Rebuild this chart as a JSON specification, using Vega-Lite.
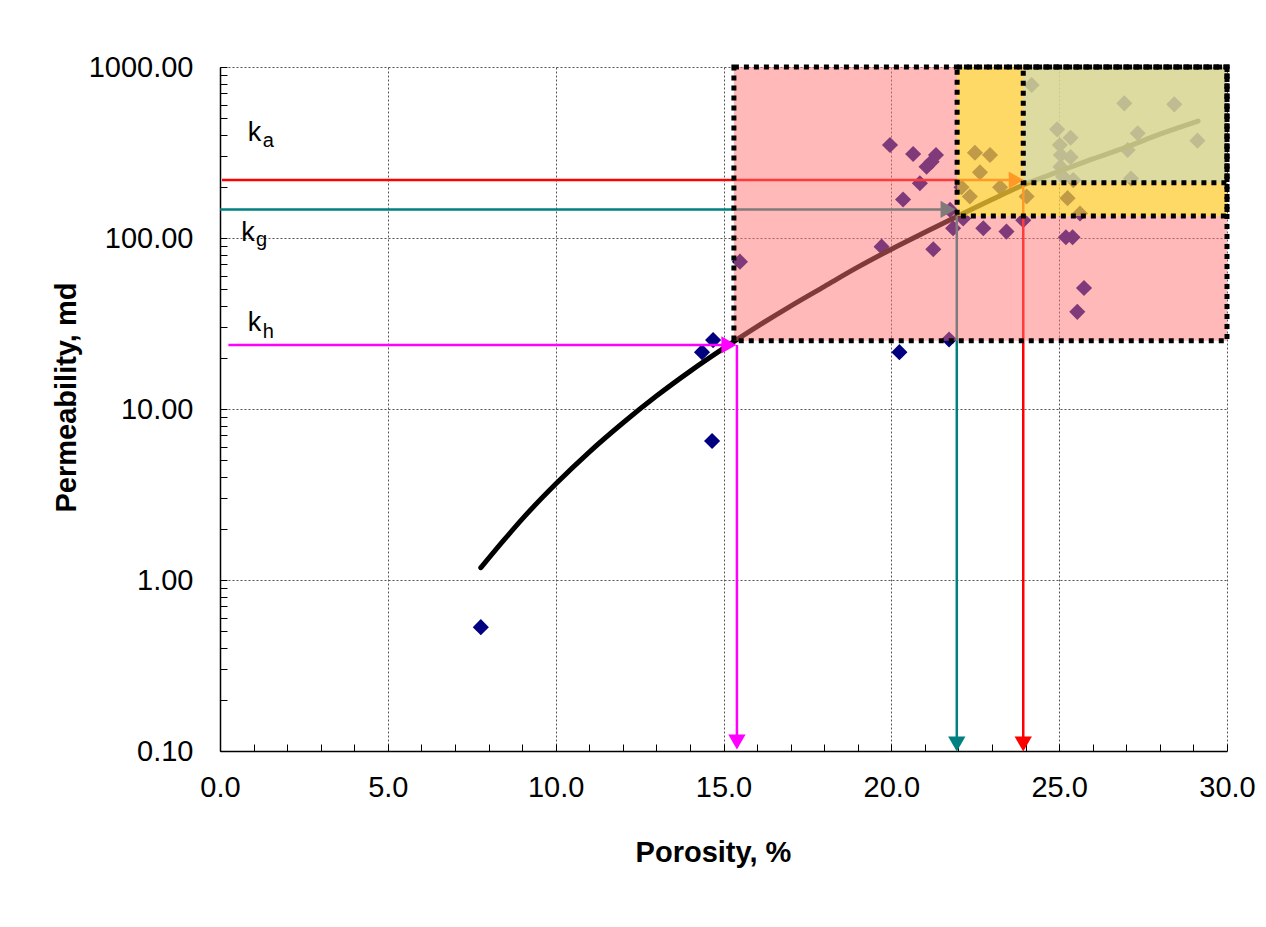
{
  "$schema": "https://vega.github.io/schema/vega-lite/v6.json",
  "width": 1007,
  "height": 684,
  "autosize": {"type": "none"},
  "padding": {"left": 220, "top": 67, "right": 39, "bottom": 176},
  "background": "white",
  "config": {"view": {"stroke": null}, "font": "Liberation Sans"},
  "datasets": {
    "pts": [
      {"phi": 7.77, "k": 0.53}, {"phi": 14.36, "k": 21.5}, {"phi": 14.69, "k": 25.3}, {"phi": 14.66, "k": 6.5},
      {"phi": 20.24, "k": 21.5}, {"phi": 21.72, "k": 25.5}, {"phi": 15.49, "k": 72.7}, {"phi": 19.96, "k": 350},
      {"phi": 20.65, "k": 310}, {"phi": 21.33, "k": 306}, {"phi": 21.2, "k": 279}, {"phi": 21.05, "k": 261},
      {"phi": 20.85, "k": 209}, {"phi": 20.35, "k": 168}, {"phi": 21.75, "k": 146}, {"phi": 21.84, "k": 114},
      {"phi": 22.14, "k": 130}, {"phi": 22.74, "k": 114}, {"phi": 23.43, "k": 109}, {"phi": 23.93, "k": 127},
      {"phi": 21.25, "k": 86}, {"phi": 19.71, "k": 89}, {"phi": 22.49, "k": 315}, {"phi": 22.94, "k": 306},
      {"phi": 22.64, "k": 242}, {"phi": 22.09, "k": 198}, {"phi": 22.34, "k": 175}, {"phi": 23.24, "k": 198},
      {"phi": 24.03, "k": 175}, {"phi": 25.25, "k": 171}, {"phi": 25.62, "k": 139}, {"phi": 24.18, "k": 785},
      {"phi": 26.94, "k": 613}, {"phi": 28.43, "k": 605}, {"phi": 24.94, "k": 432}, {"phi": 25.34, "k": 386},
      {"phi": 27.34, "k": 410}, {"phi": 29.12, "k": 371}, {"phi": 25.02, "k": 350}, {"phi": 25.05, "k": 306},
      {"phi": 25.34, "k": 297}, {"phi": 27.04, "k": 327}, {"phi": 25.04, "k": 261}, {"phi": 25.12, "k": 228},
      {"phi": 25.42, "k": 218}, {"phi": 27.14, "k": 223}, {"phi": 25.2, "k": 101}, {"phi": 25.4, "k": 101},
      {"phi": 25.74, "k": 51}, {"phi": 25.54, "k": 37}
    ],
    "curve": [
      {"phi": 7.77, "k": 1.18}, {"phi": 8.5, "k": 1.75}, {"phi": 9.0, "k": 2.27},
      {"phi": 10.0, "k": 3.64}, {"phi": 11.0, "k": 5.6}, {"phi": 12.0, "k": 8.28}, {"phi": 13.0, "k": 11.9},
      {"phi": 14.0, "k": 16.6}, {"phi": 15.0, "k": 22.6}, {"phi": 15.34, "k": 25}, {"phi": 16.0, "k": 30.3},
      {"phi": 17.0, "k": 40}, {"phi": 18.0, "k": 52}, {"phi": 19.0, "k": 67.5}, {"phi": 20.0, "k": 86},
      {"phi": 21.0, "k": 108}, {"phi": 22.0, "k": 135}, {"phi": 23.0, "k": 168}, {"phi": 24.0, "k": 207},
      {"phi": 25.0, "k": 245}, {"phi": 26.0, "k": 290}, {"phi": 27.0, "k": 340}, {"phi": 28.0, "k": 405},
      {"phi": 29.14, "k": 483}
    ],
    "arrows": [
      {"phi": 0.06, "k": 218, "phi2": 23.72, "k2": 218, "s": "ka"},
      {"phi": 23.93, "k": 218, "phi2": 23.93, "k2": 0.11, "s": "ka"},
      {"phi": 0, "k": 147, "phi2": 21.69, "k2": 147, "s": "kg"},
      {"phi": 21.95, "k": 134.5, "phi2": 21.95, "k2": 0.11, "s": "kg"},
      {"phi": 0.25, "k": 23.7, "phi2": 15.16, "k2": 23.7, "s": "kh"},
      {"phi": 15.4, "k": 23.7, "phi2": 15.4, "k2": 0.115, "s": "kh"}
    ],
    "heads": [
      {"phi": 23.72, "k": 218, "s": "ka", "dir": "right"},
      {"phi": 23.93, "k": 0.1097, "s": "ka", "dir": "down"},
      {"phi": 21.69, "k": 147, "s": "kg", "dir": "right"},
      {"phi": 21.95, "k": 0.1097, "s": "kg", "dir": "down"},
      {"phi": 15.16, "k": 23.7, "s": "kh", "dir": "right"},
      {"phi": 15.4, "k": 0.113, "s": "kh", "dir": "down"}
    ],
    "zones": [
      {"phi": 15.31, "phi2": 30, "k": 25.1, "k2": 1000, "r": "pink"},
      {"phi": 21.96, "phi2": 30, "k": 134.5, "k2": 1000, "r": "yellow"},
      {"phi": 23.93, "phi2": 30, "k": 210.7, "k2": 1000, "r": "khaki"}
    ],
    "lbl": [
      {"phi": 0.83, "k": 370, "t": "k"}, {"phi": 0.63, "k": 96, "t": "k"}, {"phi": 0.83, "k": 28.5, "t": "k"}
    ],
    "sub": [
      {"phi": 1.27, "k": 342, "t": "a"}, {"phi": 1.07, "k": 89.8, "t": "g"}, {"phi": 1.27, "k": 26, "t": "h"}
    ]
  },
  "layer": [
    {
      "data": {"name": "pts"},
      "mark": {"type": "point", "shape": "diamond", "filled": true, "color": "#000080", "size": 260, "opacity": 1},
      "encoding": {
        "x": {
          "field": "phi", "type": "quantitative",
          "scale": {"domain": [0, 30], "nice": false, "zero": false},
          "axis": {
            "title": "Porosity, %",
            "values": [0,1,2,3,4,5,6,7,8,9,10,11,12,13,14,15,16,17,18,19,20,21,22,23,24,25,26,27,28,29,30],
            "tickCount": 100,
            "labelExpr": "datum.value % 5 === 0 ? format(datum.value, '.1f') : ''",
            "labelFontSize": 29, "labelColor": "black", "labelPadding": 29, "labelOverlap": false, "labelFlush": false,
            "tickSize": -7, "tickColor": "black", "tickWidth": 1,
            "domainColor": "black", "domainWidth": 1.5,
            "grid": true, "gridColor": "#555555", "gridDash": [2, 2],
            "gridOpacity": {"condition": {"test": "datum.value % 5 === 0", "value": 1}, "value": 0},
            "titleFontSize": 29, "titleFontWeight": "bold", "titleColor": "black", "titlePadding": 36, "titleX": 493
          }
        },
        "y": {
          "field": "k", "type": "quantitative",
          "scale": {"type": "log", "domain": [0.1, 1000], "nice": false},
          "axis": {
            "title": "Permeability, md",
            "values": [0.1,0.2,0.3,0.4,0.5,0.6,0.7,0.8,0.9,1,2,3,4,5,6,7,8,9,10,20,30,40,50,60,70,80,90,100,200,300,400,500,600,700,800,900,1000],
            "tickCount": 100,
            "labelExpr": "indexof([0.1, 1, 10, 100, 1000], datum.value) >= 0 ? format(datum.value, '.2f') : ''",
            "labelFontSize": 29, "labelColor": "black", "labelPadding": 34, "labelOverlap": false, "labelFlush": false,
            "tickSize": -7, "tickColor": "black", "tickWidth": 1,
            "domainColor": "black", "domainWidth": 1.5,
            "grid": true, "gridColor": "#555555", "gridDash": [2, 2],
            "gridOpacity": {"condition": {"test": "indexof([0.1, 1, 10, 100, 1000], datum.value) >= 0", "value": 1}, "value": 0},
            "titleFontSize": 29, "titleFontWeight": "bold", "titleColor": "black", "titlePadding": 7, "titleY": 330
          }
        }
      }
    },
    {
      "data": {"name": "curve"},
      "mark": {"type": "line", "color": "black", "strokeWidth": 5, "strokeCap": "round", "interpolate": "monotone"},
      "encoding": {
        "x": {"field": "phi", "type": "quantitative"},
        "y": {"field": "k", "type": "quantitative"}
      }
    },
    {
      "data": {"name": "arrows"},
      "mark": {"type": "rule", "strokeWidth": 2.5},
      "encoding": {
        "x": {"field": "phi", "type": "quantitative"},
        "x2": {"field": "phi2"},
        "y": {"field": "k", "type": "quantitative"},
        "y2": {"field": "k2"},
        "color": {"field": "s", "type": "nominal", "scale": {"domain": ["ka", "kg", "kh"], "range": ["#FF0000", "#008080", "#FF00FF"]}, "legend": null}
      }
    },
    {
      "data": {"name": "heads"},
      "mark": {"type": "point", "filled": true, "size": 300, "opacity": 1},
      "encoding": {
        "x": {"field": "phi", "type": "quantitative"},
        "y": {"field": "k", "type": "quantitative"},
        "color": {"field": "s", "type": "nominal", "scale": {"domain": ["ka", "kg", "kh"], "range": ["#FF0000", "#008080", "#FF00FF"]}, "legend": null},
        "shape": {"field": "dir", "type": "nominal", "scale": {"domain": ["right", "down"], "range": ["triangle-right", "triangle-down"]}, "legend": null}
      }
    },
    {
      "data": {"name": "zones"},
      "mark": {"type": "rect", "opacity": 0.5},
      "encoding": {
        "x": {"field": "phi", "type": "quantitative"},
        "x2": {"field": "phi2"},
        "y": {"field": "k", "type": "quantitative"},
        "y2": {"field": "k2"},
        "color": {"field": "r", "type": "nominal", "scale": {"domain": ["pink", "yellow", "khaki"], "range": ["#FF7373", "#FFF913", "#BBDDDA"]}, "legend": null}
      }
    },
    {
      "data": {"name": "zones"},
      "mark": {"type": "rect", "fillOpacity": 0, "stroke": "black", "strokeWidth": 5, "strokeDash": [5, 5]},
      "encoding": {
        "x": {"field": "phi", "type": "quantitative"},
        "x2": {"field": "phi2"},
        "y": {"field": "k", "type": "quantitative"},
        "y2": {"field": "k2"}
      }
    },
    {
      "data": {"name": "lbl"},
      "mark": {"type": "text", "align": "left", "baseline": "alphabetic", "fontSize": 27, "color": "black"},
      "encoding": {
        "x": {"field": "phi", "type": "quantitative"},
        "y": {"field": "k", "type": "quantitative"},
        "text": {"field": "t"}
      }
    },
    {
      "data": {"name": "sub"},
      "mark": {"type": "text", "align": "left", "baseline": "alphabetic", "fontSize": 20, "color": "black"},
      "encoding": {
        "x": {"field": "phi", "type": "quantitative"},
        "y": {"field": "k", "type": "quantitative"},
        "text": {"field": "t"}
      }
    }
  ],
  "resolve": {"scale": {"color": "independent", "shape": "independent"}}
}
